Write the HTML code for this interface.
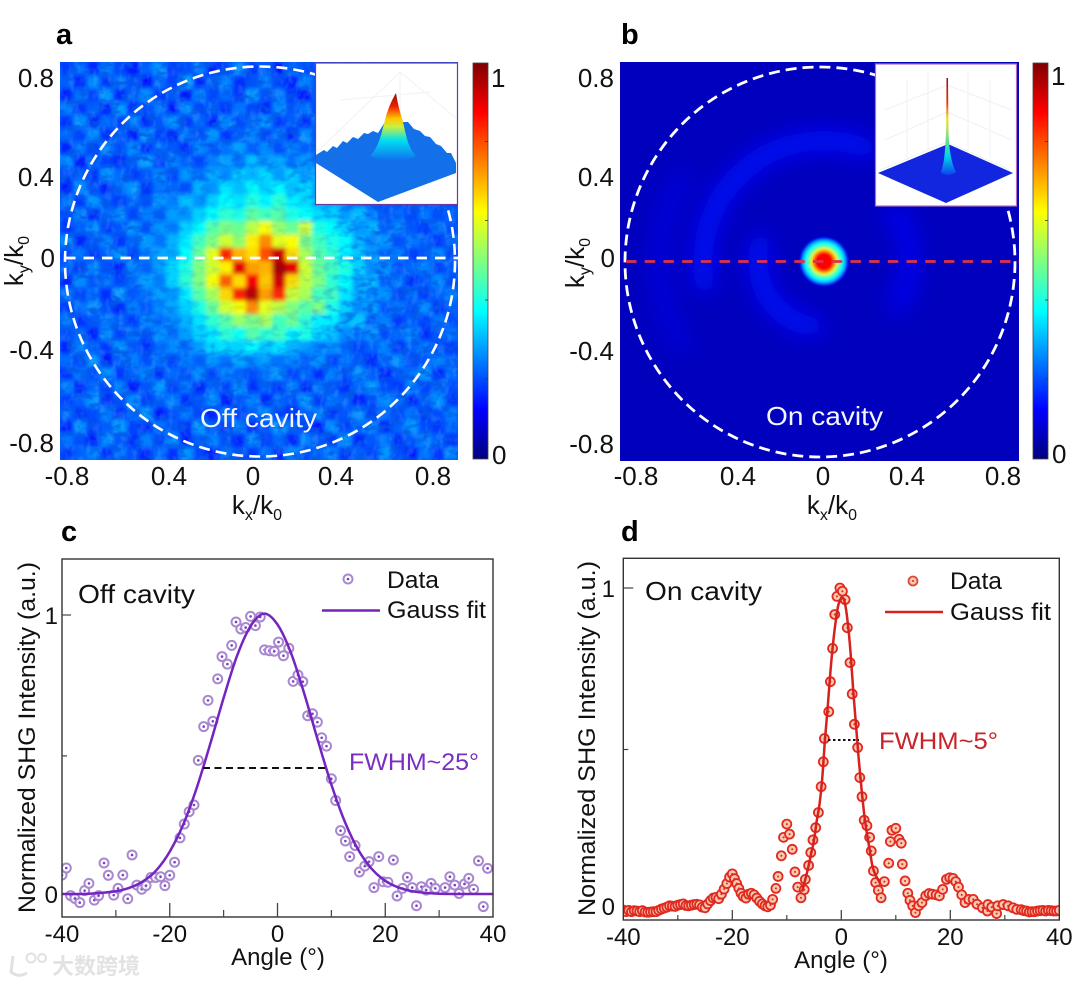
<!DOCTYPE html>
<html lang="en">
<head>
<meta charset="utf-8">
<title>SHG far-field off and on cavity</title>
<style>
html,body{margin:0;padding:0;background:#fff;width:1080px;height:984px;overflow:hidden}
svg{display:block}
text{font-family:"Liberation Sans","Noto Sans CJK SC",sans-serif;fill:#111}
.tick{font-size:26px}
.tk{font-size:24px}
.lab{font-size:24px}
.letter{font-size:29px;font-weight:bold;fill:#000}
.sub{font-size:16px}
</style>
</head>
<body>
<svg id="fig" xmlns="http://www.w3.org/2000/svg" width="1080" height="984" viewBox="0 0 1080 984">
<defs>
<linearGradient id="jetV" x1="0" y1="1" x2="0" y2="0">
<stop offset="0" stop-color="#00007f"/><stop offset=".125" stop-color="#0000ff"/><stop offset=".375" stop-color="#00ffff"/><stop offset=".625" stop-color="#ffff00"/><stop offset=".875" stop-color="#ff0000"/><stop offset="1" stop-color="#7f0000"/>
</linearGradient>
<linearGradient id="peakA" x1="0" y1="1" x2="0" y2="0">
<stop offset="0" stop-color="#1070f0"/><stop offset=".3" stop-color="#00e0f0"/><stop offset=".5" stop-color="#c8f040"/><stop offset=".62" stop-color="#ffc800"/><stop offset=".8" stop-color="#f02000"/><stop offset="1" stop-color="#901010"/>
</linearGradient>
<linearGradient id="peakB" x1="0" y1="1" x2="0" y2="0">
<stop offset="0" stop-color="#1040f0"/><stop offset=".2" stop-color="#00d8e8"/><stop offset=".42" stop-color="#90e070"/><stop offset=".58" stop-color="#f0e020"/><stop offset=".75" stop-color="#f03010"/><stop offset="1" stop-color="#901010"/>
</linearGradient>
<radialGradient id="grainFade" gradientUnits="userSpaceOnUse" cx="253" cy="262" r="135">
<stop offset="0" stop-color="#000"/><stop offset=".55" stop-color="#333"/><stop offset="1" stop-color="#fff"/>
</radialGradient>
<mask id="grainMask" maskUnits="userSpaceOnUse" x="60" y="62" width="398" height="398"><rect x="60" y="62" width="398" height="398" fill="url(#grainFade)"/></mask>
<clipPath id="clipA"><rect x="60" y="62" width="398" height="398"/></clipPath>
<clipPath id="clipB"><rect x="620" y="62" width="399" height="399"/></clipPath>
<clipPath id="clipC"><rect x="62" y="559" width="431" height="358"/></clipPath>
<clipPath id="clipD"><rect x="623.3" y="558.3" width="436" height="361.7"/></clipPath>
<filter id="blurA" x="-5%" y="-5%" width="110%" height="110%"><feGaussianBlur stdDeviation="2.2"/></filter>
<filter id="blurB" x="-40%" y="-40%" width="180%" height="180%"><feGaussianBlur stdDeviation="11"/></filter>
<filter id="blurS" x="-30%" y="-30%" width="160%" height="160%"><feGaussianBlur stdDeviation="1.2"/></filter>
<filter id="grainL" x="0" y="0" width="100%" height="100%"><feTurbulence type="fractalNoise" baseFrequency="0.16 0.09" numOctaves="2" seed="4"/><feColorMatrix values="0 0 0 0 .1  0 0 0 0 .55  0 0 0 0 1  3.4 0 0 0 -1.55"/></filter>
<filter id="grainD" x="0" y="0" width="100%" height="100%"><feTurbulence type="fractalNoise" baseFrequency="0.09 0.16" numOctaves="2" seed="9"/><feColorMatrix values="0 0 0 0 0  0 0 0 0 .1  0 0 0 0 .8  3.4 0 0 0 -1.55"/></filter>
</defs>

<rect width="1080" height="984" fill="#fff"/>

<text class="letter" x="56" y="44">a</text>
<text class="letter" x="621" y="44">b</text>
<text class="letter" x="61" y="541">c</text>
<text class="letter" x="621" y="541">d</text>

<!-- panel a -->
<g clip-path="url(#clipA)">
<rect x="60" y="62" width="398" height="398" fill="#0050ff"/>
<g id="heatA" filter="url(#blurA)"></g>
<g mask="url(#grainMask)">
<rect x="60" y="62" width="398" height="398" filter="url(#grainL)" opacity=".25"/>
<rect x="60" y="62" width="398" height="398" filter="url(#grainD)" opacity=".85"/>
</g>
</g>
<circle cx="260" cy="261.5" r="195" fill="none" stroke="#fff" stroke-width="2.6" stroke-dasharray="11 6"/>
<line x1="65" y1="258" x2="458" y2="258" stroke="#fff" stroke-width="2.8" stroke-dasharray="10.5 8"/>
<text x="200" y="427" font-size="26" textLength="117" lengthAdjust="spacingAndGlyphs" style="fill:#f2f6ff">Off cavity</text>

<g>
<rect x="315.5" y="63" width="142" height="141.5" fill="#fff" stroke="#6a3aa0" stroke-width="1.2"/>
<path d="M317 152L400 72L456 118M400 72V130M340 100L430 92" fill="none" stroke="#f2f2f2" stroke-width="1"/>
<path d="M316 163V155L324 150L327 152L333 146L337 148L343 141L347 143L353 137L358 139L364 133L368 134L373 131L378 133L385 122L408 122L414 129L420 131L425 136L430 137L436 144L441 146L447 153L451 153L456 163V173L378 202Z" fill="#1470e8"/>
<path d="M370 156C380 146 382 130 386 116C390 104 392 100 396 93C398 105 400 112 403 122C406 135 408 148 416 156C406 162 380 162 370 156Z" fill="url(#peakA)"/>
</g>
<rect x="473" y="63" width="15" height="396" fill="url(#jetV)" stroke="#444" stroke-width=".8"/>
<path d="M485 141.500h3M485 220.500h3M485 300h3M485 379h3" stroke="#333" stroke-width=".8"/>
<text class="tick" x="491" y="87">1</text>
<text class="tick" x="492" y="464">0</text>

<g text-anchor="end">
<text class="tick" x="54" y="87">0.8</text>
<text class="tick" x="54" y="186">0.4</text>
<text class="tick" x="55" y="267">0</text>
<text class="tick" x="54" y="359">-0.4</text>
<text class="tick" x="54" y="452">-0.8</text>
</g>
<g text-anchor="middle">
<text class="tick" x="67" y="485">-0.8</text>
<text class="tick" x="169" y="485">0.4</text>
<text class="tick" x="253" y="485">0</text>
<text class="tick" x="336" y="485">0.4</text>
<text class="tick" x="433" y="485">0.8</text>
</g>
<text class="tick" x="257" y="514" text-anchor="middle">k<tspan class="sub" dy="6">x</tspan><tspan dy="-6">/k</tspan><tspan class="sub" dy="6">0</tspan></text>
<text class="tick" transform="translate(23 261) rotate(-90)" text-anchor="middle">k<tspan class="sub" dy="6">y</tspan><tspan dy="-6">/k</tspan><tspan class="sub" dy="6">0</tspan></text>

<!-- panel b -->
<g clip-path="url(#clipB)">
<rect id="heatBbg" x="620" y="62" width="399" height="399" fill="#0000bd"/>
<g id="ringsB" filter="url(#blurB)"></g>
<g id="spotB" filter="url(#blurS)"></g>
</g>
<circle cx="820" cy="262" r="195" fill="none" stroke="#fff" stroke-width="2.8" stroke-dasharray="11 6"/>
<line x1="626" y1="261.500" x2="1019" y2="261.500" stroke="#e0304a" stroke-width="2.8" stroke-dasharray="10.5 8.2"/>
<text x="766" y="425" font-size="26" textLength="117" lengthAdjust="spacingAndGlyphs" style="fill:#f2f6ff">On cavity</text>

<g>
<rect x="875.500" y="64" width="141" height="142" fill="#fff" stroke="#b070c0" stroke-width="1.2"/>
<path d="M880 170L947 142L1010 170M907 80V160M928 72V150M968 72V150M990 80V158M885 110L947 85L1012 110M885 140L947 112L1012 140" fill="none" stroke="#f0f0f0" stroke-width="1"/>
<path d="M878 173L948 144L1013 173L946 203Z" fill="#1226e0"/>
<path d="M941 172C945 160 945 150 946.200 130L946.500 78H948L948.500 130C949 150 951 162 956 172C950 176 945 176 941 172Z" fill="url(#peakB)"/>
</g>
<rect x="1033" y="63" width="15" height="396" fill="url(#jetV)" stroke="#444" stroke-width=".8"/>
<path d="M1045 141.500h3M1045 220.500h3M1045 300h3M1045 379h3" stroke="#333" stroke-width=".8"/>
<text class="tick" x="1051" y="85">1</text>
<text class="tick" x="1052" y="463">0</text>

<g text-anchor="end">
<text class="tick" x="614" y="87">0.8</text>
<text class="tick" x="614" y="186">0.4</text>
<text class="tick" x="615" y="267">0</text>
<text class="tick" x="614" y="360">-0.4</text>
<text class="tick" x="614" y="453">-0.8</text>
</g>
<g text-anchor="middle">
<text class="tick" x="636" y="485">-0.8</text>
<text class="tick" x="738" y="485">0.4</text>
<text class="tick" x="823" y="485">0</text>
<text class="tick" x="907" y="485">0.4</text>
<text class="tick" x="1003" y="485">0.8</text>
</g>
<text class="tick" x="832" y="514" text-anchor="middle">k<tspan class="sub" dy="6">x</tspan><tspan dy="-6">/k</tspan><tspan class="sub" dy="6">0</tspan></text>
<text class="tick" transform="translate(584 263) rotate(-90)" text-anchor="middle">k<tspan class="sub" dy="6">y</tspan><tspan dy="-6">/k</tspan><tspan class="sub" dy="6">0</tspan></text>

<!-- panel c -->
<g id="plotC" clip-path="url(#clipC)"></g>
<rect x="62" y="559" width="431" height="358" fill="none" stroke="#333" stroke-width="1.4"/>
<g id="axesC"></g>
<text class="lab" x="78" y="603" font-size="26" style="font-size:26px" textLength="117" lengthAdjust="spacingAndGlyphs">Off cavity</text>
<text class="lab" transform="translate(35 913) rotate(-90)" textLength="351" lengthAdjust="spacingAndGlyphs">Normalized SHG Intensity (a.u.)</text>
<text class="lab" x="278" y="965" text-anchor="middle">Angle (°)</text>
<g>
<circle cx="348" cy="579" r="4.500" fill="#fff" stroke="#a888d0" stroke-width="2"/>
<circle cx="348" cy="579" r="1.300" fill="#7a3fc0"/>
<text class="lab" x="387" y="588" textLength="52" lengthAdjust="spacingAndGlyphs">Data</text>
<line x1="322" y1="610.500" x2="380" y2="610.500" stroke="#7424c0" stroke-width="2.500"/>
<text class="lab" x="387" y="618" textLength="99" lengthAdjust="spacingAndGlyphs">Gauss fit</text>
</g>
<line x1="203" y1="768" x2="326" y2="768" stroke="#111" stroke-width="2" stroke-dasharray="7 4.500"/>
<text class="lab" x="349" y="770" textLength="130" lengthAdjust="spacingAndGlyphs" style="fill:#7b2fc0">FWHM~25°</text>

<!-- panel d -->
<g id="plotD" clip-path="url(#clipD)"></g>
<rect x="623.300" y="558.300" width="436" height="361.700" fill="none" stroke="#333" stroke-width="1.400"/>
<g id="axesD"></g>
<text class="lab" x="645" y="600" style="font-size:26px" textLength="117" lengthAdjust="spacingAndGlyphs">On cavity</text>
<text class="lab" transform="translate(595 916) rotate(-90)" textLength="355" lengthAdjust="spacingAndGlyphs">Normalized SHG Intensity (a.u.)</text>
<text class="lab" x="841" y="968" text-anchor="middle">Angle (°)</text>
<g>
<circle cx="913" cy="581" r="4.500" fill="#f8c8b0" stroke="#e04a35" stroke-width="1.800"/>
<circle cx="913" cy="581" r="1" fill="#d03020"/>
<text class="lab" x="950" y="589" textLength="52" lengthAdjust="spacingAndGlyphs">Data</text>
<line x1="885" y1="612" x2="943" y2="612" stroke="#d8201c" stroke-width="2.500"/>
<text class="lab" x="950" y="620" textLength="101" lengthAdjust="spacingAndGlyphs">Gauss fit</text>
</g>
<line x1="828" y1="740" x2="859" y2="740" stroke="#111" stroke-width="2" stroke-dasharray="2.500 2.500"/>
<text class="lab" x="879" y="749" textLength="119" lengthAdjust="spacingAndGlyphs" style="fill:#c8222a">FWHM~5°</text>

<!-- watermark -->
<g opacity=".85">
<path d="M13 956L11 972Q18 978 27 973" fill="none" stroke="#dcdcdc" stroke-width="3"/>
<circle cx="31" cy="958" r="4.500" fill="none" stroke="#dcdcdc" stroke-width="2"/>
<circle cx="42" cy="958" r="4" fill="none" stroke="#dcdcdc" stroke-width="2"/>
<text x="52" y="974" font-size="22" font-weight="bold" style="fill:#dedede;font-family:'Liberation Sans','Noto Sans CJK SC',sans-serif">大数跨境</text>
</g>
</svg>

<script>
// Panel a heatmap, intensity in percent, one array per row
var heatRow00=[18,23,16,25,19,15,22,27,17,20,24,16,19,26,18,22,15,23,20,17,20,20,20,20,20,20,20,20,20,20];
var heatRow01=[22,16,26,18,24,20,14,23,19,28,16,22,25,17,20,24,19,16,25,20,20,20,20,20,20,20,20,20,20,20];
var heatRow02=[15,24,19,27,16,22,26,18,21,15,25,19,23,17,27,20,24,18,15,22,20,20,20,20,20,20,20,20,20,20];
var heatRow03=[25,18,22,15,28,17,20,24,15,26,19,22,17,24,19,16,26,21,24,18,20,20,20,20,20,20,20,20,20,20];
var heatRow04=[17,27,15,23,19,25,16,21,27,18,23,15,26,20,23,27,18,22,17,25,20,20,20,20,20,20,20,20,20,20];
var heatRow05=[23,19,26,17,22,15,27,19,16,24,20,27,18,22,25,19,24,16,26,20,20,20,20,20,20,20,20,20,20,20];
var heatRow06=[16,24,18,25,20,26,17,23,21,17,26,21,24,28,22,26,20,25,22,24,20,20,20,20,20,20,20,20,20,20];
var heatRow07=[26,15,23,19,16,22,28,18,25,22,19,25,28,24,31,27,29,24,28,23,22,20,20,20,20,20,20,20,20,20];
var heatRow08=[19,22,17,27,23,18,21,26,19,27,24,29,26,33,30,34,28,33,27,31,25,22,20,20,20,20,20,20,20,20];
var heatRow09=[15,26,20,16,24,27,17,24,23,20,30,27,35,31,38,33,37,31,34,28,27,24,22,20,20,20,20,20,20,20];
var heatRow10=[24,18,27,21,18,23,20,27,25,31,27,33,38,35,41,37,42,36,34,31,30,27,24,22,20,20,20,20,20,20];
var heatRow11=[20,25,16,23,26,19,25,22,28,27,33,38,42,40,47,44,46,40,38,34,33,28,31,25,20,23,19,24,20,22];
var heatRow12=[17,22,26,18,21,27,20,27,25,33,38,46,50,48,56,62,52,48,58,40,38,33,27,30,22,25,21,18,24,20];
var heatRow13=[26,16,21,25,17,23,28,24,30,36,44,50,58,52,64,74,60,62,50,44,40,37,30,26,27,20,24,22,17,23];
var heatRow14=[19,24,17,22,27,19,25,29,30,38,48,60,84,70,66,80,92,66,54,46,42,36,32,28,23,25,18,21,26,19];
var heatRow15=[22,18,25,20,16,26,22,28,34,40,50,58,64,90,72,70,96,90,58,48,44,40,33,26,27,20,23,25,19,22];
var heatRow16=[16,26,21,24,19,23,28,25,33,42,50,62,78,66,88,68,92,66,56,50,42,38,29,31,22,24,17,21,26,20];
var heatRow17=[24,19,23,17,27,21,24,28,27,36,46,54,66,84,94,72,84,58,54,44,44,35,30,25,27,19,23,18,22,25];
var heatRow18=[18,23,26,20,16,25,21,26,29,33,40,48,58,62,74,60,56,50,46,50,40,33,26,29,21,24,20,26,17,22];
var heatRow19=[25,17,21,24,22,18,26,23,26,30,35,42,46,52,50,54,44,48,42,36,36,30,32,23,25,18,22,19,24,20];
var heatRow20=[20,23,16,26,19,24,20,27,24,28,33,36,42,39,46,42,44,38,40,34,31,26,24,27,20,23,26,17,21,24];
var heatRow21=[16,25,22,18,27,21,17,23,26,23,28,34,35,33,37,32,35,30,28,25,27,23,19,22,25,17,22,24,20,18];
var heatRow22=[23,19,26,15,22,25,20,24,19,25,22,27,24,29,26,28,24,26,22,27,19,24,21,16,23,26,18,21,25,22];
var heatRow23=[17,24,20,27,18,22,26,17,23,20,26,19,25,22,20,24,27,19,23,17,25,20,26,22,15,21,24,27,16,23];
var heatRow24=[25,16,23,19,25,15,21,27,18,24,16,23,19,27,17,22,18,25,15,24,21,17,23,27,20,18,25,19,23,20];
var heatRow25=[19,22,27,16,20,26,18,22,25,17,21,26,15,21,25,16,23,20,27,18,24,22,15,20,26,23,16,22,27,17];
var heatRow26=[23,17,20,25,17,23,27,15,20,24,19,16,24,18,22,26,19,16,22,25,17,21,26,18,23,19,24,17,20,25];
var heatRow27=[16,26,18,22,28,19,16,24,21,17,27,21,18,25,15,21,27,23,18,15,26,19,23,25,16,22,27,20,18,23];
var heatRow28=[24,20,15,26,21,17,25,19,26,15,22,25,20,16,26,18,23,15,25,21,18,27,16,21,24,17,21,25,22,16];
var heatRow29=[18,22,25,17,24,20,15,23,17,27,19,15,24,21,18,24,16,27,20,23,25,17,22,19,27,20,15,24,18,26];
var heatRowsA=[heatRow00,heatRow01,heatRow02,heatRow03,heatRow04,heatRow05,heatRow06,heatRow07,heatRow08,heatRow09,heatRow10,heatRow11,heatRow12,heatRow13,heatRow14,heatRow15,heatRow16,heatRow17,heatRow18,heatRow19,heatRow20,heatRow21,heatRow22,heatRow23,heatRow24,heatRow25,heatRow26,heatRow27,heatRow28,heatRow29];

// Panel b: central spot (radius in k/k0, intensity) and faint partial rings
var spotRadius=[0.110,0.100,0.090,0.077,0.064,0.055,0.045];
var spotValue=[0.15,0.30,0.38,0.46,0.60,0.72,0.87];
var ringRadius=[0.30,0.55,0.39,0.75];
var ringStartDeg=[100,170,-35,150];
var ringEndDeg=[195,290,30,210];
var ringValue=[0.14,0.14,0.11,0.09];

// Panel c: data points
var anglesC=[-40,-39.2,-38.4,-37.6,-36.7,-35.8,-35,-34,-33.2,-32.2,-31.4,-30.4,-29.6,-28.7,-27.8,-27,-26.1,-25.2,-24.4,-23.5,-22.6,-21.7,-20.9,-20,-19.1,-18.1,-17.3,-16.4,-15.5,-14.7,-13.7,-12.9,-12,-11.1,-10.3,-9.3,-8.5,-7.7,-6.8,-5.9,-5,-4.1,-3.2,-2.4,-1.5,-0.6,0.2,1.1,2.1,2.9,3.8,4.7,5.6,6.5,7.4,8.2,9.1,10,10.8,11.7,12.6,13.4,14.4,15.2,16.2,17,17.9,18.8,19.6,20.5,21.5,22.2,23.2,24.1,25,25.8,26.7,27.6,28.5,29.3,31.1,32,32.9,33.7,34.7,35.5,36.4,37.3,38.2,39];
var valuesC=[0.068,0.093,-0.006,-0.016,-0.031,0.012,0.038,-0.022,-0.006,0.111,0.067,-0.004,0.02,0.068,-0.017,0.14,0.032,0.017,0.03,0.059,0.059,0.062,0.03,0.067,0.114,0.201,0.251,0.295,0.319,0.479,0.6,0.694,0.619,0.771,0.851,0.824,0.891,0.975,0.95,0.955,0.995,0.962,0.993,0.875,0.872,0.87,0.903,0.854,0.881,0.762,0.785,0.761,0.639,0.646,0.616,0.56,0.53,0.413,0.335,0.227,0.19,0.134,0.174,0.079,0.1,0.116,0.023,0.134,0.044,0.042,0.122,-0.007,0.02,0.06,0.023,-0.042,0.026,0.014,0.038,0.02,0.023,0.062,0.032,0.002,0.036,0.056,0.017,0.119,-0.045,0.092];
var fitAnglesC=[-40,-35,-30,-27.5,-25,-22.5,-20,-17.5,-15,-12.5,-10,-7.5,-5,-2.5,0,2.5,5,7.5,10,12.5,15,17.5,20,22.5,25,27.5,30,35,40];
var fitValuesC=[0,0.001,0.01,0.022,0.045,0.085,0.152,0.249,0.38,0.537,0.703,0.854,0.96,1.005,0.966,0.864,0.716,0.55,0.392,0.259,0.158,0.09,0.047,0.023,0.01,0.004,0.001,0,0];
var xTicksMajorC=[-40,-20,0,20,40];
var xTicksMinorC=[-30,-10,10,30];
var yTicksC=[0,1];
var yTickMinorC=[0.495];

// Panel d: data points
var anglesD=[-40,-39.5,-39,-38.5,-38,-37.5,-37,-36.5,-36,-35.5,-35,-34.5,-34,-33.5,-33,-32.5,-32,-31.5,-31,-30.5,-30,-29.5,-29,-28.5,-28,-27.5,-27,-26.5,-26,-25.5,-25,-24.5,-24,-23.5,-23,-22.5,-22,-21.5,-21,-20.5,-20,-19.6,-19.2,-18.8,-18.4,-18,-17.5,-17,-16.5,-16,-15.5,-15,-14.5,-14,-13.5,-13,-12.6,-12,-11.6,-11,-10.6,-10,-9.5,-9,-8.5,-8,-7.4,-6.8,-6.6,-6,-5.6,-5.2,-4.7,-4.2,-3.7,-3.3,-3.1,-2.3,-2,-1.6,-1.2,-0.8,-0.25,0.2,0.7,1.1,1.6,2,2.4,3,3.4,3.8,4.2,4.7,5.2,5.5,5.9,6.3,6.8,7.3,7.9,8.7,9,9.3,10,10.6,11,11.2,11.7,12.2,12.6,13.1,13.6,14.2,14.8,15.5,16.1,16.7,17.4,18,18.6,19.3,19.9,20.5,21,21.5,22.1,22.7,23.4,24.2,24.9,25.9,26.8,26.9,27.6,28.5,28.7,29.7,30.6,31.5,32.2,33,33.5,34,34.5,35,35.5,36,36.5,37,37.5,38,38.5,39,39.5,40];
var valuesD=[0.003,-0.002,0.002,-0.002,0.001,0,-0.002,0.001,-0.003,-0.004,-0.003,-0.002,-0.002,0.002,0.006,0.009,0.012,0.016,0.015,0.014,0.018,0.02,0.022,0.017,0.016,0.018,0.02,0.021,0.019,0.012,0.01,0.022,0.032,0.04,0.042,0.038,0.052,0.068,0.085,0.105,0.115,0.1,0.085,0.07,0.055,0.045,0.04,0.052,0.055,0.05,0.04,0.03,0.022,0.016,0.013,0.018,0.036,0.07,0.107,0.171,0.228,0.269,0.238,0.191,0.121,0.074,0.041,0.066,0.098,0.141,0.181,0.22,0.258,0.305,0.385,0.462,0.534,0.617,0.71,0.813,0.918,0.974,1,0.99,0.964,0.877,0.769,0.672,0.578,0.506,0.413,0.354,0.281,0.264,0.228,0.186,0.124,0.088,0.064,0.041,0.091,0.148,0.215,0.25,0.256,0.222,0.21,0.145,0.093,0.055,0.033,0.016,-0.005,0.016,0.026,0.047,0.054,0.052,0.05,0.047,0.067,0.098,0.103,0.101,0.091,0.074,0.05,0.026,0.036,0.036,0.021,0.01,0,0.02,0.012,-0.008,0.016,0.02,0.016,0.01,0.005,0.004,0.001,0,-0.003,-0.002,-0.002,0,0.001,0.002,0,0.002,0.001,0,0,0.002];
var fitAnglesD=[-7.2,-6.5,-6,-5.5,-5,-4.5,-4,-3.5,-3,-2.5,-2,-1.5,-1,-0.5,0.2,0.7,1.2,1.7,2.2,2.7,3.2,3.7,4.2,4.7,5.2,5.7,6.2,6.8,7.1];
var fitValuesD=[0.06,0.105,0.14,0.18,0.22,0.28,0.33,0.41,0.53,0.63,0.74,0.83,0.9,0.95,0.97,0.95,0.89,0.8,0.68,0.575,0.47,0.38,0.3,0.24,0.19,0.14,0.115,0.095,0.087];
var xTicksMajorD=[-40,-20,0,20,40];
var xTicksMinorD=[-30,-10,10,30];
var yTicksD=[0,1];
var yTickMinorD=[0.5];

var NS='http://www.w3.org/2000/svg';
function mk(tag,attrs,parent){
  var el=document.createElementNS(NS,tag);
  for(var k in attrs){el.setAttribute(k,attrs[k]);}
  parent.appendChild(el);
  return el;
}
function jet(v){
  var stops=[[0,0,0,127],[0.125,0,0,255],[0.375,0,255,255],[0.625,255,255,0],[0.875,255,0,0],[1,127,0,0]];
  v=Math.max(0,Math.min(1,v));
  for(var i=1;i<stops.length;i++){
    if(v<=stops[i][0]){
      var a=stops[i-1],b=stops[i],t=(v-a[0])/(b[0]-a[0]);
      return 'rgb('+Math.round(a[1]+(b[1]-a[1])*t)+','+Math.round(a[2]+(b[2]-a[2])*t)+','+Math.round(a[3]+(b[3]-a[3])*t)+')';
    }
  }
  return '#7f0000';
}
function smoothPath(pts){
  var d='M'+pts[0][0].toFixed(2)+' '+pts[0][1].toFixed(2);
  for(var i=0;i<pts.length-1;i++){
    var p0=pts[Math.max(0,i-1)],p1=pts[i],p2=pts[i+1],p3=pts[Math.min(pts.length-1,i+2)];
    var c1x=p1[0]+(p2[0]-p0[0])/6,c1y=p1[1]+(p2[1]-p0[1])/6,c2x=p2[0]-(p3[0]-p1[0])/6,c2y=p2[1]-(p3[1]-p1[1])/6;
    d+='C'+c1x.toFixed(2)+' '+c1y.toFixed(2)+' '+c2x.toFixed(2)+' '+c2y.toFixed(2)+' '+p2[0].toFixed(2)+' '+p2[1].toFixed(2);
  }
  return d;
}

// heatmap a
var heatA=document.getElementById('heatA');
var rowCount=heatRowsA.length;
for(var r=0;r<rowCount;r++){
  var colCount=heatRowsA[r].length;
  for(var c=0;c<colCount;c++){
    var cell=mk('rect',{x:60+c*398/colCount,y:62+r*398/rowCount,width:398/colCount+0.6,height:398/rowCount+0.6,fill:jet(heatRowsA[r][c]/100)},heatA);
    
    
  }
}

// heatmap b
var spotCx=824,spotCy=261.5,pxPerK=220;
var ringsB=document.getElementById('ringsB');
for(var i=0;i<ringRadius.length;i++){
  var rad=ringRadius[i]*pxPerK;
  var a0=ringStartDeg[i]*Math.PI/180,a1=ringEndDeg[i]*Math.PI/180;
  var large=(ringEndDeg[i]-ringStartDeg[i])>180?1:0;
  var arc=mk('path',{d:'M'+(spotCx+rad*Math.cos(a0))+' '+(spotCy+rad*Math.sin(a0))+'A'+rad+' '+rad+' 0 '+large+' 1 '+(spotCx+rad*Math.cos(a1))+' '+(spotCy+rad*Math.sin(a1)),fill:'none',stroke:jet(ringValue[i]),'stroke-width':20,'stroke-linecap':'round'},ringsB);
  
  
}
var spotB=document.getElementById('spotB');
for(var i=0;i<spotRadius.length;i++){
  var disc=mk('circle',{cx:spotCx,cy:spotCy,r:spotRadius[i]*pxPerK,fill:jet(spotValue[i])},spotB);
  
  
}

// line plots
function xC(a){return 62+(a+40)/80*431;}
function yC(v){return 894-v*279;}
function xD(a){return 623.3+(a+40)/80*436;}
function yD(v){return 911-v*323;}

function drawAxes(group,xf,yf,major,minor,yt,ym,bottom,left,labelY,labelRight,majorLen,minorLen,yMajorLen,zeroLabelDy,prefix){
  major.forEach(function(t){
    if(t>-40&&t<40){
      var tk=mk('line',{x1:xf(t),x2:xf(t),y1:bottom,y2:bottom-majorLen,stroke:'#444','stroke-width':1.3},group);
      
      
    }
    var lb=mk('text',{x:xf(t),y:labelY,'text-anchor':'middle','class':'tk'},group);
    lb.textContent=String(t);
    
    
  });
  minor.forEach(function(t){
    var tk=mk('line',{x1:xf(t),x2:xf(t),y1:bottom,y2:bottom-minorLen,stroke:'#444','stroke-width':1.2},group);
    
    
  });
  yt.forEach(function(t){
    if(t>0){
      var tk=mk('line',{x1:left,x2:left+yMajorLen,y1:yf(t),y2:yf(t),stroke:'#444','stroke-width':1.2},group);
      
      
    }
    var lb=mk('text',{x:labelRight,y:yf(t)+(t===0?zeroLabelDy:9),'text-anchor':'end','class':'tk'},group);
    lb.textContent=String(t);
    
    
  });
  ym.forEach(function(t){
    var tk=mk('line',{x1:left,x2:left+5,y1:yf(t),y2:yf(t),stroke:'#444','stroke-width':1.2},group);
    
    
  });
}
drawAxes(document.getElementById('axesC'),xC,yC,xTicksMajorC,xTicksMinorC,yTicksC,yTickMinorC,917,62,942,58,14,7,9,9,'plot-c');
drawAxes(document.getElementById('axesD'),xD,yD,xTicksMajorD,xTicksMinorD,yTicksD,yTickMinorD,920,623.3,945,615,10,5,10,4,'plot-d');

// plot c marks
var plotC=document.getElementById('plotC');
for(var i=0;i<anglesC.length;i++){
  var ringC=mk('circle',{cx:xC(anglesC[i]),cy:yC(valuesC[i]),r:4.5,fill:'#fff','fill-opacity':.75,stroke:'#a888d0','stroke-width':2},plotC);
  
  
  var dotC=mk('circle',{cx:xC(anglesC[i]),cy:yC(valuesC[i]),r:1.3,fill:'#7a3fc0'},plotC);
  
  
}
var curveC=mk('path',{d:smoothPath(fitAnglesC.map(function(a,i){return [xC(a),yC(fitValuesC[i])];})),fill:'none',stroke:'#7424c0','stroke-width':2.5},plotC);



// plot d marks
var plotD=document.getElementById('plotD');
for(var i=0;i<anglesD.length;i++){
  var ringD=mk('circle',{cx:xD(anglesD[i]),cy:yD(valuesD[i]),r:4.5,fill:'#f8c8b0',stroke:'#e02a20','stroke-width':1.8},plotD);
  
  
  var dotD=mk('circle',{cx:xD(anglesD[i]),cy:yD(valuesD[i]),r:1,fill:'#d03020'},plotD);
  
  
}
var curveD=mk('path',{d:smoothPath(fitAnglesD.map(function(a,i){return [xD(a),yD(fitValuesD[i])];})),fill:'none',stroke:'#d8201c','stroke-width':2.5},plotD);


</script>
</body>
</html>
